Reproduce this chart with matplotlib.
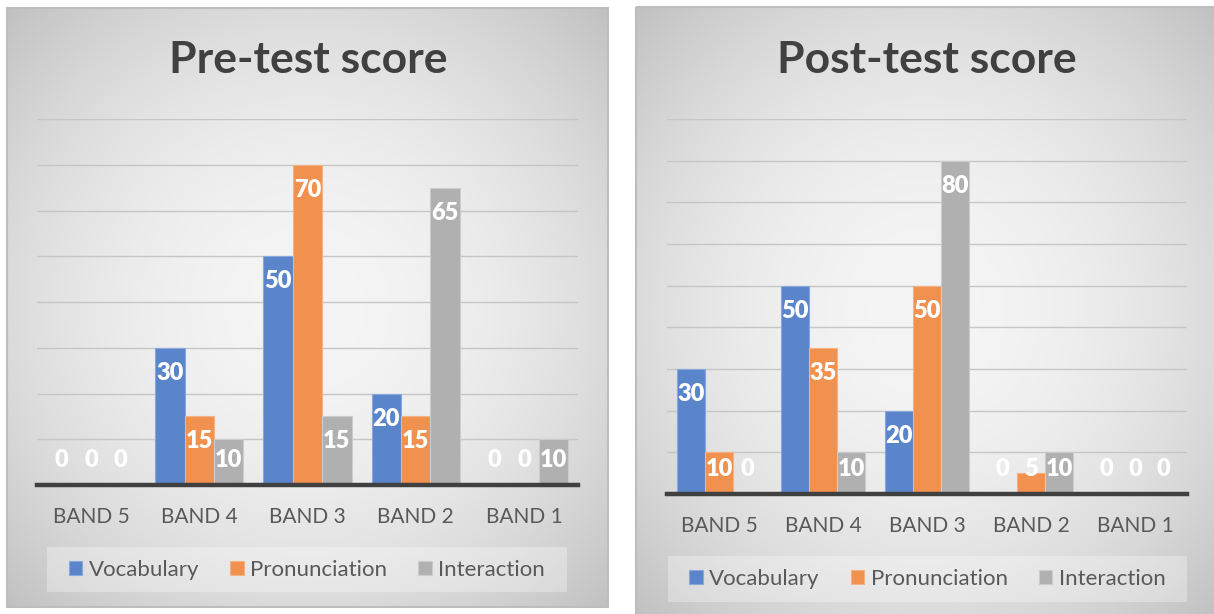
import numpy as np
import matplotlib
matplotlib.use("Agg")
import matplotlib.pyplot as plt
from matplotlib.patches import Rectangle

# data
bands = ["BAND 5", "BAND 4", "BAND 3", "BAND 2", "BAND 1"]
series = ["Vocabulary", "Pronunciation", "Interaction"]

pre_vocab = [0, 30, 50, 20, 0]
pre_pron = [0, 15, 70, 15, 0]
pre_inter = [0, 10, 15, 65, 10]

post_vocab = [30, 50, 20, 0, 0]
post_pron = [10, 35, 50, 5, 0]
post_inter = [0, 10, 80, 10, 0]

colors = ["#5a85cb", "#f0914f", "#b0b0b0"]
edges = ["#8aa8dc", "#f5b285", "#cccccc"]

W, H = 1214, 614
plt.rcParams["font.family"] = ["Lato", "DejaVu Sans"]

fig = plt.figure(figsize=(W / 100, H / 100), dpi=100)
fig.patch.set_facecolor("white")

# background layer in pixel coords
bg = fig.add_axes([0, 0, 1, 1], zorder=0)
bg.set_xlim(0, W)
bg.set_ylim(H, 0)
bg.axis("off")


def panel_bg(x0, x1, y0, y1):
    ny, nx = 200, 300
    yy, xx = np.mgrid[-1:1:ny * 1j, -1:1:nx * 1j]
    r2 = (xx ** 2 + yy ** 2) / 2.0
    v = (245 - 52 * r2) / 255.0
    img = np.dstack([v, v, v])
    bg.imshow(img, extent=(x0, x1, y1, y0), aspect="auto", zorder=1,
              interpolation="bilinear")
    bg.add_patch(Rectangle((x0, y0), x1 - x0, y1 - y0, fill=False,
                           edgecolor="#bdbdbd", lw=1.5, zorder=2))


def px_axes(x0, x1, ytop, ybase):
    return fig.add_axes([x0 / W, 1 - ybase / H, (x1 - x0) / W, (ybase - ytop) / H],
                        zorder=3)


def draw_chart(ax, vals, ymax, title, tx, ty, legbox):
    x = np.arange(len(bands))
    w = 0.272
    ax.set_xlim(-0.5, len(bands) - 0.5)
    ax.set_ylim(0, ymax)
    ax.set_facecolor("none")
    ax.set_yticks(np.arange(10, ymax + 1, 10))
    ax.yaxis.grid(True, color="#c6c6c6", lw=1.0)
    ax.set_axisbelow(True)
    for s in ["top", "right", "left"]:
        ax.spines[s].set_visible(False)
    ax.spines["bottom"].set_color("#404040")
    ax.spines["bottom"].set_linewidth(3.2)
    ax.spines["bottom"].set_zorder(5)
    ax.tick_params(axis="y", length=0, labelleft=False)
    ax.tick_params(axis="x", length=0, pad=16, labelsize=15, labelcolor="#595959")
    ax.set_xticks(x)
    ax.set_xticklabels(bands)

    handles = []
    for k, v in enumerate(vals):
        b = ax.bar(x + (k - 1) * w, v, w, color=colors[k], edgecolor=edges[k],
                   linewidth=0.8, label=series[k], zorder=3)
        handles.append(b)
        for xi, vi in zip(x + (k - 1) * w, v):
            y0 = ax.transData.transform((0, 0))[1]
            yt = ax.transData.transform((0, vi))[1]
            yl = max(yt - 25, y0 + 25)
            yd = ax.transData.inverted().transform((0, yl))[1]
            ax.text(xi, yd, str(vi), ha="center", va="center", color="white",
                    fontsize=17, fontweight="heavy", zorder=4)

    fig.text(tx / W, 1 - ty / H, title, ha="center", va="center",
             fontsize=32, fontweight="bold", color="#404040")

    lx0, lx1, ly0, ly1 = legbox
    bg.add_patch(Rectangle((lx0, ly0), lx1 - lx0, ly1 - ly0, facecolor="white",
                           alpha=0.3, edgecolor="none", zorder=2))
    fig.legend(handles=handles, loc="center", ncol=3, frameon=False,
               bbox_to_anchor=((lx0 + lx1) / 2 / W, 1 - (ly0 + ly1) / 2 / H),
               fontsize=16, labelcolor="#595959", handlelength=0.6,
               handleheight=0.6, handletextpad=0.3, columnspacing=1.4)


panel_bg(7, 608, 8, 607)
panel_bg(636, 1216, 7, 616)

ax1 = px_axes(37, 578, 119, 485)
draw_chart(ax1, [pre_vocab, pre_pron, pre_inter], 80, "Pre-test score",
           308, 60, (47, 567, 547, 592))

ax2 = px_axes(667, 1187, 119, 494)
draw_chart(ax2, [post_vocab, post_pron, post_inter], 90, "Post-test score",
           927, 60, (668, 1187, 556, 602))

fig.savefig("out.png", dpi=100)
